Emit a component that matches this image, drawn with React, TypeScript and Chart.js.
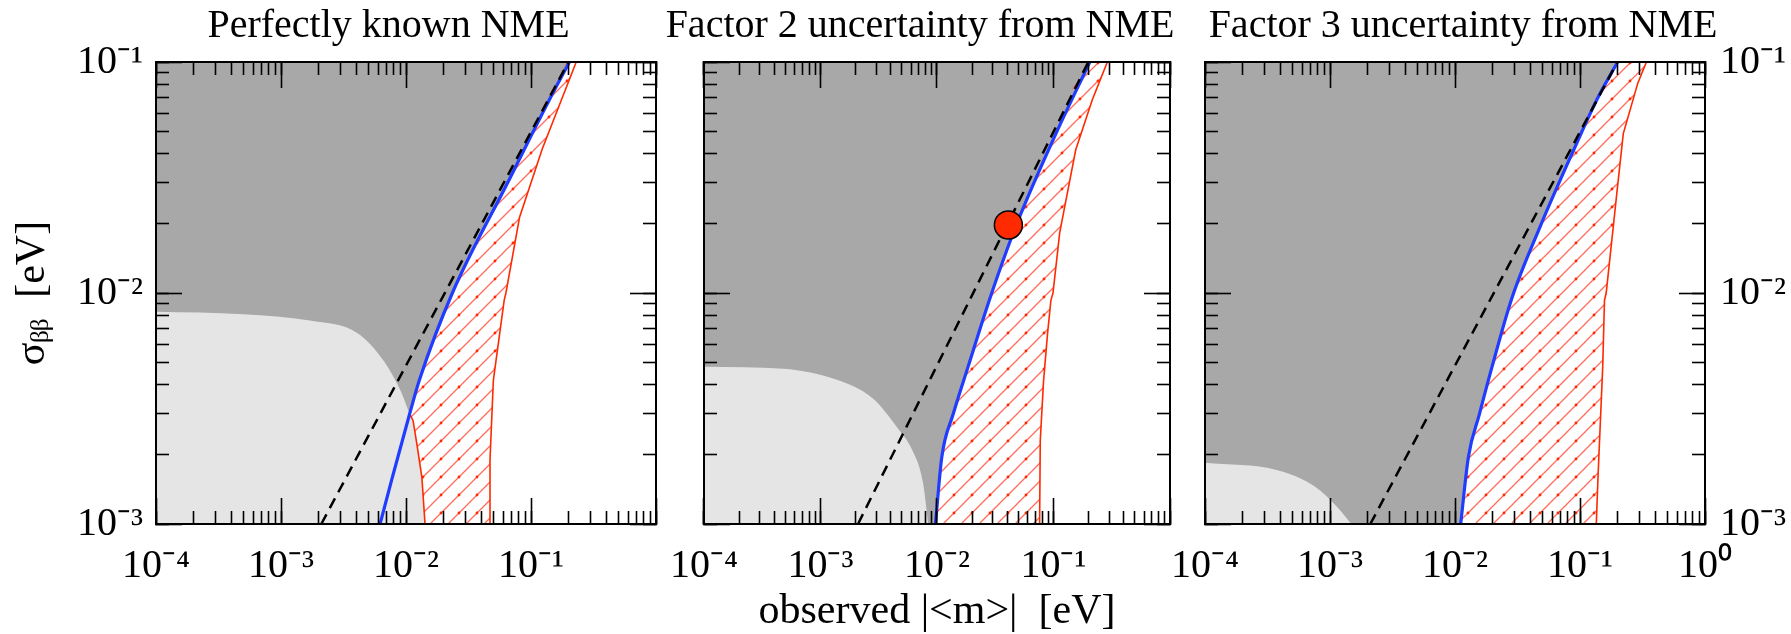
import React, { useEffect, useRef } from 'react';
import { Chart, registerables } from 'chart.js';
Chart.register(...registerables);

const FONT = "'Liberation Serif', 'Times New Roman', serif";

// ---------- text ----------
const PANEL_TITLES = ['Perfectly known NME', 'Factor 2 uncertainty from NME', 'Factor 3 uncertainty from NME'];
const X_DECADES = [1e-4, 1e-3, 1e-2, 1e-1, 1];
const X_TICK_LABELS = ['10⁻⁴', '10⁻³', '10⁻²', '10⁻¹', '10⁰'];
const Y_DECADES = [1e-3, 1e-2, 1e-1];
const Y_TICK_LABELS = ['10⁻³', '10⁻²', '10⁻¹'];
const X_TITLE = 'observed |<m>|  [eV]';
const Y_TITLE = 'σᵦᵦ  [eV]';

// ---------- data: [observed |<m>| (eV), sigma (eV)] ----------
const DASHED_LINE = [[0.0021, 0.001], [0.199, 0.1]];

const P1_BLUE = [[0.0062, 0.001], [0.0077, 0.00156], [0.0107, 0.003], [0.0128, 0.0042], [0.0235, 0.01], [0.065, 0.03], [0.14, 0.0685], [0.203, 0.1]];
const P1_LIGHT = [[0.0001, 0.0083], [0.0005, 0.0081], [0.0017, 0.0076], [0.0041, 0.0067], [0.0066, 0.0051], [0.0092, 0.0037], [0.0107, 0.003], [0.0114, 0.0028], [0.0123, 0.00217], [0.0134, 0.00159], [0.0142, 0.001]];
const P1_HATCH_EDGE = [[0.0107, 0.003], [0.0114, 0.0028], [0.0123, 0.00217], [0.0134, 0.00159], [0.0142, 0.001]];
const P1_RED = [[0.047, 0.001], [0.047, 0.0019], [0.05, 0.0042], [0.061, 0.0093], [0.063, 0.01], [0.081, 0.0213], [0.123, 0.042], [0.23, 0.1]];

const P2_BLUE = [[0.0097, 0.001], [0.011, 0.00195], [0.0138, 0.003], [0.0185, 0.0048], [0.0285, 0.0095], [0.048, 0.0197], [0.105, 0.049], [0.205, 0.1]];
const P2_LIGHT = [[0.0001, 0.0048], [0.00048, 0.0047], [0.0014, 0.0042], [0.0028, 0.0035], [0.0046, 0.0026], [0.0061, 0.0021], [0.0076, 0.0015], [0.0084, 0.001]];
const P2_HATCH_EDGE = [[0.0097, 0.001]];
const P2_RED = [[0.076, 0.001], [0.077, 0.0023], [0.082, 0.0041], [0.089, 0.0067], [0.095, 0.0093], [0.099, 0.01], [0.113, 0.0182], [0.155, 0.0416], [0.215, 0.0685], [0.29, 0.1]];
const P2_DOT = [[0.041, 0.0197]];

const P3_BLUE = [[0.0111, 0.001], [0.0128, 0.00195], [0.0157, 0.003], [0.0198, 0.0048], [0.0285, 0.0095], [0.048, 0.0194], [0.089, 0.0416], [0.136, 0.0685], [0.2, 0.1]];
const P3_LIGHT = [[0.0001, 0.00184], [0.00038, 0.00171], [0.00076, 0.00145], [0.00115, 0.00118], [0.00148, 0.001]];
const P3_HATCH_EDGE = [[0.0111, 0.001]];
const P3_RED = [[0.135, 0.001], [0.14, 0.0017], [0.152, 0.0048], [0.157, 0.0093], [0.162, 0.01], [0.197, 0.027], [0.222, 0.049], [0.29, 0.081], [0.34, 0.1]];

// ---------- layout / style ----------
const H = 634;
const TICK_MINOR = 13;
const TICK_MAJOR = 26;
const TICK_W = 1.6;
const DARK = '#a8a8a8';
const LIGHT = '#e5e5e5';
const BLUE = '#1f3cff';
const RED = '#ff2a00';

const PANELS = [
  { title: PANEL_TITLES[0], left: 0, width: 777, yLeftW: 156, yRightW: 121, yLeftLabels: true, yRightLabels: false, xLast: false, xTitle: false, yTitle: true,
    blue: P1_BLUE, light: P1_LIGHT, edge: P1_HATCH_EDGE, red: P1_RED, dot: null as number[][] | null },
  { title: PANEL_TITLES[1], left: 639, width: 562, yLeftW: 40, yRightW: 23, yLeftLabels: false, yRightLabels: false, xLast: false, xTitle: true, yTitle: false,
    blue: P2_BLUE, light: P2_LIGHT, edge: P2_HATCH_EDGE, red: P2_RED, dot: P2_DOT },
  { title: PANEL_TITLES[2], left: 1135, width: 656, yLeftW: 70, yRightW: 86, yLeftLabels: false, yRightLabels: true, xLast: true, xTitle: false, yTitle: false,
    blue: P3_BLUE, light: P3_LIGHT, edge: P3_HATCH_EDGE, red: P3_RED, dot: null },
];

const pts = (a: number[][]) => a.map(([x, y]) => ({ x, y }));
const isDecade = (v: number) => { const l = Math.log10(v); return Math.abs(l - Math.round(l)) < 1e-6; };
const intMantissa = (v: number) => {
  const e = Math.floor(Math.log10(v) + 1e-9);
  const m = v / Math.pow(10, e);
  return Math.abs(m - Math.round(m)) < 1e-6;
};
const labelOf = (v: number, decs: number[], labels: string[]) => {
  const i = decs.findIndex((d) => Math.abs(Math.log10(d) - Math.log10(v)) < 1e-6);
  return i >= 0 ? labels[i] : '';
};

function makeHatch(): CanvasPattern | string {
  const s = 18;
  const c = document.createElement('canvas');
  c.width = s; c.height = s;
  const g = c.getContext('2d');
  if (!g) return 'rgba(255,0,0,0.3)';
  g.strokeStyle = 'rgba(255,70,50,0.8)';
  g.lineWidth = 1.3;
  g.beginPath();
  g.moveTo(-2, s + 2); g.lineTo(s + 2, -2);
  g.moveTo(-2, 2); g.lineTo(2, -2);
  g.moveTo(s - 2, s + 2); g.lineTo(s + 2, s - 2);
  g.stroke();
  g.fillStyle = RED;
  g.beginPath(); g.arc(s / 2, s / 2, 1.4, 0, Math.PI * 2); g.fill();
  return g.createPattern(c, 'repeat') || 'rgba(255,0,0,0.3)';
}

function tickScale(axis: 'x' | 'y', position: string, size: number, length: number, majorsOnly: boolean, weight: number, border: boolean) {
  const transparent = 'rgba(0,0,0,0)';
  return {
    type: 'logarithmic',
    axis,
    position,
    min: axis === 'x' ? 1e-4 : 1e-3,
    max: axis === 'x' ? 1 : 1e-1,
    weight,
    afterFit: (s: any) => { if (axis === 'x') s.height = size; else s.width = size; },
    grid: {
      display: true,
      z: 2,
      drawOnChartArea: false,
      drawTicks: true,
      tickLength: -length,
      tickWidth: TICK_W,
      tickColor: (ctx: any) => {
        const v = ctx.tick ? ctx.tick.value : null;
        if (v == null || !intMantissa(v)) return transparent;
        if (majorsOnly && !isDecade(v)) return transparent;
        return '#000';
      },
    },
    border: { display: border, color: '#000', width: 2, z: 2 },
    ticks: { display: false, autoSkip: false, maxRotation: 0, minRotation: 0, z: 2 } as any,
    title: { display: false } as any,
  } as any;
}

function buildConfig(p: typeof PANELS[number]) {
  const hatch = makeHatch();
  const topRed = p.red[p.red.length - 1];
  const startX = p.edge[0][0];
  const lower = [...p.edge, ...p.red];
  const upper = [...p.blue.filter(([x]) => x >= startX - 1e-12), [topRed[0], 0.1]];
  if (upper[0][0] !== startX) upper.unshift(p.edge[0]);
  const dark = [[1e-4, 0.001], ...p.blue];

  const base = { pointRadius: 0, pointHoverRadius: 0, tension: 0, spanGaps: true };
  const datasets: any[] = [
    { ...base, label: 'allowed region (red hatched)', data: pts(lower), borderColor: RED, borderWidth: 1.6, fill: false, order: 7 },
    { ...base, label: 'hatch fill', data: pts(upper), borderWidth: 0, borderColor: 'rgba(0,0,0,0)', backgroundColor: hatch, fill: '-1', cubicInterpolationMode: 'monotone', order: 8 },
    { ...base, label: 'light gray region', data: pts(p.light), borderWidth: 0, borderColor: 'rgba(0,0,0,0)', backgroundColor: LIGHT, fill: 'start', cubicInterpolationMode: 'monotone', order: 9 },
    { ...base, label: 'dark gray region', data: pts(dark), borderWidth: 0, borderColor: 'rgba(0,0,0,0)', backgroundColor: DARK, fill: 'end', cubicInterpolationMode: 'monotone', order: 10 },
    { ...base, label: 'blue curve', data: pts(p.blue), borderColor: BLUE, borderWidth: 3.2, fill: false, cubicInterpolationMode: 'monotone', order: 6 },
    { ...base, label: 'dashed line', data: pts(DASHED_LINE), borderColor: '#000', borderWidth: 2.5, borderDash: [11, 7], fill: false, order: 5 },
  ];
  if (p.dot) {
    datasets.push({ label: 'point', data: pts(p.dot), showLine: false, pointRadius: 14, pointHoverRadius: 14, pointBackgroundColor: RED, pointBorderColor: '#000', pointBorderWidth: 1.5, order: 4 });
  }

  const labelFont = { family: FONT, size: 40, lineHeight: 1.2 };

  const x = tickScale('x', 'bottom', H - 524, TICK_MINOR, false, 0, true);
  x.ticks = {
    display: true, autoSkip: false, maxRotation: 0, minRotation: 0, padding: 31, color: '#000', font: labelFont, z: 2,
    callback: (v: any) => {
      const val = Number(v);
      if (!p.xLast && Math.abs(val - 1) < 1e-9) return '';
      return isDecade(val) ? labelOf(val, X_DECADES, X_TICK_LABELS) : '';
    },
  };
  x.title = { display: p.xTitle, text: X_TITLE, color: '#000', font: { family: FONT, size: 42, lineHeight: 1 }, padding: { top: 0, bottom: 1 } };

  const y = tickScale('y', 'left', p.yLeftW, TICK_MINOR, false, 0, true);
  y.ticks = {
    display: p.yLeftLabels, autoSkip: false, padding: 26, color: '#000', font: labelFont, z: 2,
    callback: (v: any) => (isDecade(Number(v)) ? labelOf(Number(v), Y_DECADES, Y_TICK_LABELS) : ''),
  };
  y.title = { display: p.yTitle, text: Y_TITLE, color: '#000', font: { family: FONT, size: 42, lineHeight: 1 }, padding: { top: 12, bottom: 0 } };

  const yR = tickScale('y', 'right', p.yRightW, TICK_MINOR, false, 0, true);
  yR.ticks = {
    display: p.yRightLabels, autoSkip: false, padding: 28, color: '#000', font: labelFont, z: 2,
    callback: (v: any) => (isDecade(Number(v)) ? labelOf(Number(v), Y_DECADES, Y_TICK_LABELS) : ''),
  };

  return {
    type: 'line',
    data: { datasets },
    options: {
      responsive: false,
      maintainAspectRatio: false,
      animation: false,
      events: [],
      devicePixelRatio: 1,
      layout: { padding: 0 },
      plugins: {
        legend: { display: false },
        tooltip: { enabled: false },
        title: {
          display: true, text: p.title, color: '#000',
          font: { family: FONT, size: 40, weight: 'normal', lineHeight: 1.2 },
          padding: { top: 2.5, bottom: 11.5 },
        },
      },
      scales: {
        x,
        xMaj: tickScale('x', 'bottom', 0, TICK_MAJOR, true, -1, false),
        xTop: tickScale('x', 'top', 0, TICK_MINOR, false, 0, true),
        xTopMaj: tickScale('x', 'top', 0, TICK_MAJOR, true, -1, false),
        y,
        yMaj: tickScale('y', 'left', 0, TICK_MAJOR, true, -1, false),
        yR,
        yRMaj: tickScale('y', 'right', 0, TICK_MAJOR, true, -1, false),
      },
    },
  } as any;
}

function Panel({ p }: { p: typeof PANELS[number] }) {
  const ref = useRef<HTMLCanvasElement>(null);
  useEffect(() => {
    if (!ref.current) return;
    const chart = new Chart(ref.current, buildConfig(p));
    return () => chart.destroy();
  }, [p]);
  return (
    <canvas
      ref={ref}
      width={p.width}
      height={H}
      style={{ position: 'absolute', left: p.left, top: 0, width: p.width, height: H }}
    />
  );
}

export default function App() {
  return (
    <div style={{ position: 'absolute', left: 0, top: 0, width: 1791, height: H, background: '#fff', overflow: 'hidden' }}>
      {PANELS.map((p, i) => <Panel key={i} p={p} />)}
    </div>
  );
}
